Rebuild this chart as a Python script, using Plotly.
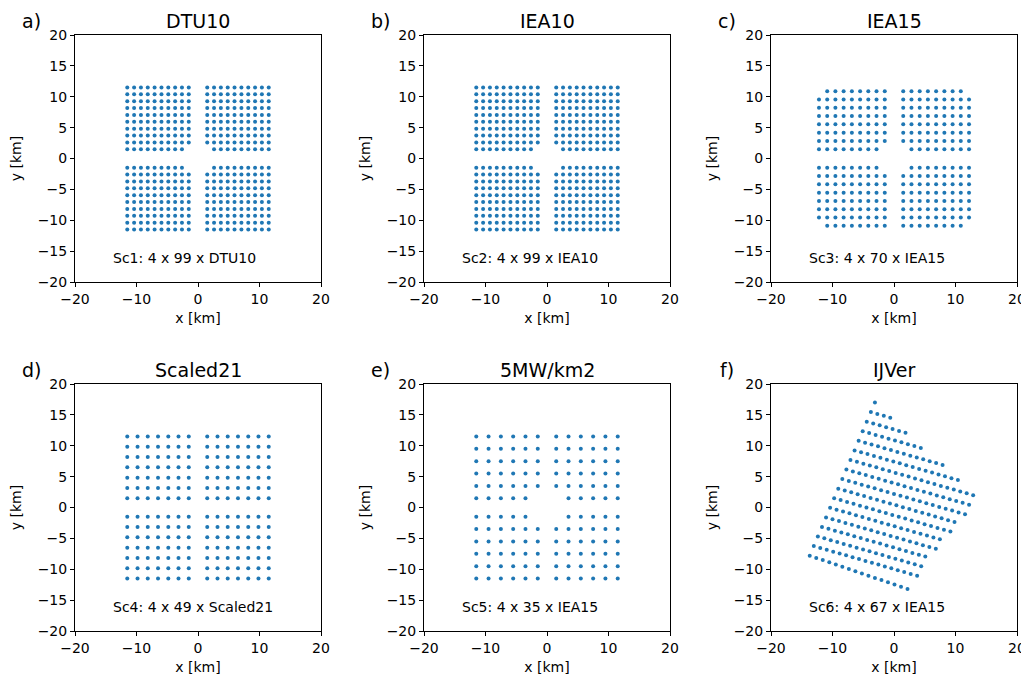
import plotly.graph_objects as go

# ---------------- data ----------------
titles = ["DTU10", "IEA10", "IEA15", "Scaled21", "5MW/km2", "IJVer"]
letters = ["a)", "b)", "c)", "d)", "e)", "f)"]
labels = ["Sc1: 4 x 99 x DTU10", "Sc2: 4 x 99 x IEA10", "Sc3: 4 x 70 x IEA15",
          "Sc4: 4 x 49 x Scaled21", "Sc5: 4 x 35 x IEA15", "Sc6: 4 x 67 x IEA15"]

# distance (km) of turbine columns / rows from the farm centre, per quadrant
dtu10_cols = [1.5, 2.61, 3.72, 4.83, 5.94, 7.06, 8.17, 9.28, 10.39, 11.5]
dtu10_rows = [1.5, 2.61, 3.72, 4.83, 5.94, 7.06, 8.17, 9.28, 10.39, 11.5]
dtu10_skip = [(1.5, 1.5)]

iea10_cols = [1.5, 2.61, 3.72, 4.83, 5.94, 7.06, 8.17, 9.28, 10.39, 11.5]
iea10_rows = [1.5, 2.61, 3.72, 4.83, 5.94, 7.06, 8.17, 9.28, 10.39, 11.5]
iea10_skip = [(1.5, 1.5)]

iea15_cols = [1.5, 2.84, 4.18, 5.51, 6.85, 8.19, 9.53, 10.86, 12.2]
iea15_rows = [1.5, 2.84, 4.19, 5.53, 6.87, 8.21, 9.56, 10.9]
iea15_skip = [(1.5, 1.5), (12.2, 10.9)]

scaled21_cols = [1.5, 3.17, 4.83, 6.5, 8.17, 9.83, 11.5]
scaled21_rows = [1.5, 3.17, 4.83, 6.5, 8.17, 9.83, 11.5]
scaled21_skip = []

mw5_cols = [1.5, 3.5, 5.5, 7.5, 9.5, 11.5]
mw5_rows = [1.5, 3.5, 5.5, 7.5, 9.5, 11.5]
mw5_skip = [(1.5, 1.5)]

# IJmuiden Ver: turbine rows (first turbine, step along the row, turbine count)
ijver_x0 = [-13.7, -13.04, -12.38, -11.71, -11.05, -10.39, -9.73, -9.06, -8.4,
            -7.74, -7.08, -6.41, -5.75, -5.09, -4.43, -3.76, -3.1]
ijver_y0 = [-7.8, -6.25, -4.7, -3.15, -1.6, -0.05, 1.5, 3.05, 4.6,
            6.15, 7.7, 9.25, 10.8, 12.35, 13.9, 15.45, 17.0]
ijver_dx = [1.06, 1.05, 1.05, 1.05, 1.05, 1.05, 1.05, 1.05, 1.05,
            1.05, 1.05, 1.05, 1.05, 1.05, 1.05, 1.05, 1.05]
ijver_dy = [-0.36, -0.30, -0.30, -0.30, -0.30, -0.30, -0.30, -0.30, -0.30,
            -0.30, -0.30, -0.30, -0.30, -0.30, -0.30, -0.30, -0.30]
ijver_n = [16, 17, 17, 17, 18, 18, 19, 19, 20, 20, 20, 17, 14, 10, 7, 4, 1]


def quad_layout(cols, rows, skip):
    xs, ys = [], []
    for sy in (1, -1):
        for sx in (-1, 1):
            for r in rows:
                for c in cols:
                    if (c, r) in skip:
                        continue
                    xs.append(sx * c)
                    ys.append(sy * r)
    return xs, ys


def row_layout(x0, y0, dx, dy, n):
    xs, ys = [], []
    for a, b, u, v, k in zip(x0, y0, dx, dy, n):
        for i in range(k):
            xs.append(a + i * u)
            ys.append(b + i * v)
    return xs, ys


layouts = [
    quad_layout(dtu10_cols, dtu10_rows, dtu10_skip),
    quad_layout(iea10_cols, iea10_rows, iea10_skip),
    quad_layout(iea15_cols, iea15_rows, iea15_skip),
    quad_layout(scaled21_cols, scaled21_rows, scaled21_skip),
    quad_layout(mw5_cols, mw5_rows, mw5_skip),
    row_layout(ijver_x0, ijver_y0, ijver_dx, ijver_dy, ijver_n),
]

# ---------------- figure ----------------
PAGE_OFFSET = 8          # default body margin of the html page
W, H = 1029 - PAGE_OFFSET, 678 - PAGE_OFFSET
FONT = "DejaVu Sans"
xdom = [(75, 321), (424, 670), (771, 1017)]   # window pixels
ydom = [(35, 282), (384, 631)]


def fx(p):
    return (p - PAGE_OFFSET) / W


def fy(p):
    return 1 - (p - PAGE_OFFSET) / H


fig = go.Figure()
layout = dict(
    width=W, height=H, margin=dict(l=0, r=0, t=0, b=0, autoexpand=False),
    paper_bgcolor="white", plot_bgcolor="white", showlegend=False,
    font=dict(family=FONT, size=14, color="black"),
)
annotations = []
axis_common = dict(range=[-20, 20], showline=True, linecolor="black", linewidth=1,
                   mirror=True, ticks="outside", ticklen=4, tickwidth=1,
                   tickcolor="black", showgrid=False, zeroline=False,
                   automargin=False, fixedrange=True,
                   tickfont=dict(family=FONT, size=14, color="black"))

for i in range(6):
    r, c = divmod(i, 3)
    n = i + 1
    xs, ys = layouts[i]
    xname = "x" if n == 1 else f"x{n}"
    yname = "y" if n == 1 else f"y{n}"
    fig.add_trace(go.Scatter(x=xs, y=ys, mode="markers",
                             marker=dict(size=4, color="#1f77b4"),
                             xaxis=xname, yaxis=yname, hoverinfo="x+y"))
    x0, x1 = xdom[c]
    y0, y1 = ydom[r]
    layout["xaxis" if n == 1 else f"xaxis{n}"] = dict(
        axis_common, domain=[fx(x0), fx(x1)], anchor=yname, dtick=10, tick0=0,
        title=dict(text="x [km]", font=dict(family=FONT, size=14), standoff=7))
    layout["yaxis" if n == 1 else f"yaxis{n}"] = dict(
        axis_common, domain=[fy(y1), fy(y0)], anchor=xname, dtick=5, tick0=0,
        title=dict(text="y [km]", font=dict(family=FONT, size=14), standoff=12))
    # panel title
    annotations.append(dict(text=titles[i], xref="paper", yref="paper",
                            x=fx((x0 + x1) / 2), y=fy(y0 - 14),
                            xanchor="center", yanchor="middle", showarrow=False,
                            borderpad=0,
                            font=dict(family=FONT, size=19, color="black")))
    # panel letter
    annotations.append(dict(text=letters[i], xref="paper", yref="paper",
                            x=fx(x0 - 44), y=fy(y0 - 14),
                            xanchor="center", yanchor="middle", showarrow=False,
                            borderpad=0,
                            font=dict(family=FONT, size=19, color="black")))
    # scenario label
    annotations.append(dict(text=labels[i], xref=xname, yref=yname,
                            x=-14.1, y=-16.1, xanchor="left", yanchor="middle",
                            showarrow=False,
                            font=dict(family=FONT, size=14, color="black")))

layout["annotations"] = annotations
fig.update_layout(**layout)
fig.write_html("out.html")
